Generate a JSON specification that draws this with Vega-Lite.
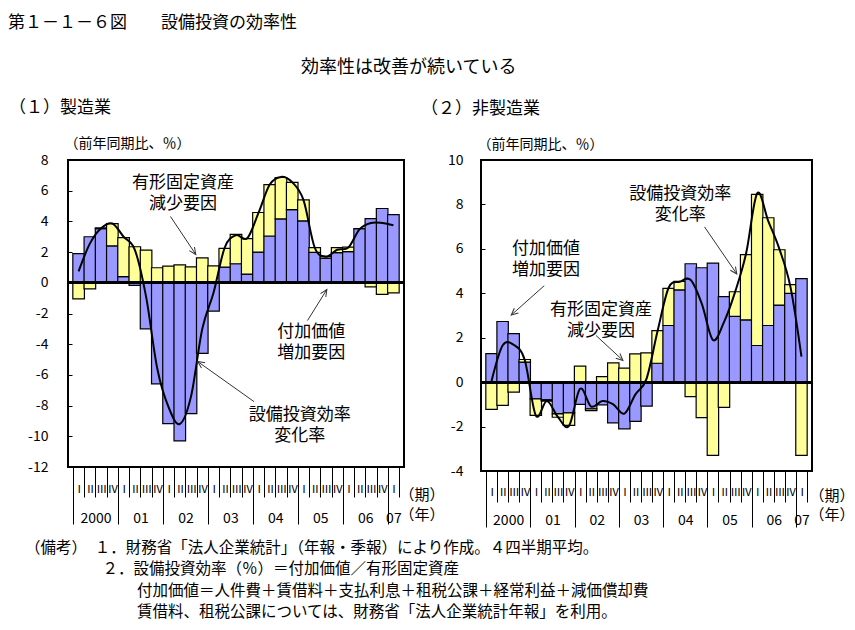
{
  "$schema": "https://vega.github.io/schema/vega-lite/v6.json",
  "background": "white",
  "padding": {"left": 8, "top": 14, "right": 0, "bottom": 0},
  "config": {
    "font": "Noto Sans CJK JP",
    "view": {"stroke": "black", "strokeWidth": 2},
    "axis": {"grid": false, "domain": false, "labelColor": "black", "tickColor": "black", "titleColor": "black", "titleFontWeight": "normal", "labelFont": "Noto Sans CJK JP", "titleFont": "Noto Sans CJK JP", "labelFlush": false, "labelOverlap": false, "labelBound": false},
    "title": {"fontWeight": "normal", "color": "black", "font": "Noto Sans CJK JP"},
    "text": {"font": "Noto Sans CJK JP", "color": "black"}
  },
  "datasets": {
    "mfg": [
      {"i": 0, "v": 1.9, "f": -1.05, "r": 0.75},
      {"i": 1, "v": 3.0, "f": -0.4, "r": 2.55},
      {"i": 2, "v": 3.53, "f": 0.05, "r": 3.55},
      {"i": 3, "v": 2.4, "f": 1.46, "r": 3.86},
      {"i": 4, "v": 0.4, "f": 2.54, "r": 3.0},
      {"i": 5, "v": -0.17, "f": 2.35, "r": 2.15},
      {"i": 6, "v": -3.0, "f": 2.13, "r": -0.9},
      {"i": 7, "v": -6.58, "f": 0.98, "r": -5.6},
      {"i": 8, "v": -9.18, "f": 1.09, "r": -8.1},
      {"i": 9, "v": -10.3, "f": 1.17, "r": -9.2},
      {"i": 10, "v": -8.52, "f": 1.04, "r": -7.4},
      {"i": 11, "v": -4.6, "f": 1.63, "r": -3.0},
      {"i": 12, "v": -1.84, "f": 1.1, "r": -0.65},
      {"i": 13, "v": 1.02, "f": 1.22, "r": 2.3},
      {"i": 14, "v": 1.24, "f": 1.92, "r": 3.1},
      {"i": 15, "v": 0.57, "f": 2.31, "r": 2.9},
      {"i": 16, "v": 2.0, "f": 2.58, "r": 4.55},
      {"i": 17, "v": 3.05, "f": 3.35, "r": 6.4},
      {"i": 18, "v": 4.16, "f": 2.7, "r": 6.9},
      {"i": 19, "v": 4.77, "f": 1.77, "r": 6.55},
      {"i": 20, "v": 4.03, "f": 1.37, "r": 5.4},
      {"i": 21, "v": 1.98, "f": 0.31, "r": 2.3},
      {"i": 22, "v": 1.61, "f": 0.11, "r": 1.7},
      {"i": 23, "v": 1.96, "f": 0.33, "r": 2.15},
      {"i": 24, "v": 2.03, "f": 0.3, "r": 2.3},
      {"i": 25, "v": 3.53, "f": 0.0, "r": 3.5},
      {"i": 26, "v": 4.18, "f": -0.26, "r": 3.9},
      {"i": 27, "v": 4.84, "f": -0.76, "r": 3.9},
      {"i": 28, "v": 4.44, "f": -0.65, "r": 3.75}
    ],
    "non": [
      {"i": 0, "v": 1.28, "f": -1.23, "r": 0.05},
      {"i": 1, "v": 2.73, "f": -1.05, "r": 1.65},
      {"i": 2, "v": 2.18, "f": -0.45, "r": 1.68},
      {"i": 3, "v": 0.9, "f": 0.12, "r": 1.0},
      {"i": 4, "v": -0.75, "f": -0.75, "r": -1.5},
      {"i": 5, "v": -0.8, "f": -0.05, "r": -0.85},
      {"i": 6, "v": -1.43, "f": -0.15, "r": -1.57},
      {"i": 7, "v": -1.38, "f": -0.57, "r": -1.97},
      {"i": 8, "v": -1.0, "f": 0.72, "r": -0.3},
      {"i": 9, "v": -1.2, "f": -0.08, "r": -1.1},
      {"i": 10, "v": -1.02, "f": 0.25, "r": -0.85},
      {"i": 11, "v": -1.83, "f": 0.87, "r": -1.0},
      {"i": 12, "v": -2.1, "f": 0.63, "r": -1.42},
      {"i": 13, "v": -1.77, "f": 1.27, "r": -0.55},
      {"i": 14, "v": -1.08, "f": 1.32, "r": 0.15},
      {"i": 15, "v": 0.85, "f": 1.47, "r": 2.3},
      {"i": 16, "v": 2.55, "f": 1.67, "r": 4.25},
      {"i": 17, "v": 4.15, "f": 0.39, "r": 4.52},
      {"i": 18, "v": 5.33, "f": -0.65, "r": 4.6},
      {"i": 19, "v": 5.15, "f": -1.6, "r": 3.52},
      {"i": 20, "v": 5.36, "f": -3.3, "r": 1.9},
      {"i": 21, "v": 3.85, "f": -1.14, "r": 2.7},
      {"i": 22, "v": 2.96, "f": 1.11, "r": 4.05},
      {"i": 23, "v": 2.8, "f": 2.94, "r": 5.8},
      {"i": 24, "v": 1.65, "f": 6.8, "r": 8.5},
      {"i": 25, "v": 2.55, "f": 4.85, "r": 7.25},
      {"i": 26, "v": 3.47, "f": 2.49, "r": 6.0},
      {"i": 27, "v": 4.0, "f": 0.39, "r": 4.3},
      {"i": 28, "v": 4.66, "f": -3.3, "r": 1.15}
    ],
    "ann1": [
      {"label": "有形固定資産\n減少要因", "x": 9.29, "y": 6.48},
      {"label": "付加価値\n増加要因", "x": 20.7, "y": -3.21},
      {"label": "設備投資効率\n変化率", "x": 19.66, "y": -8.59}
    ],
    "arr1": [
      {"x": 8.17, "y": 4.32, "x2": 10.42, "y2": 1.85},
      {"x": 20.36, "y": -2.46, "x2": 22.08, "y2": -0.44},
      {"x": 15.6, "y": -7.74, "x2": 10.59, "y2": -5.13}
    ],
    "ann2": [
      {"label": "設備投資効率\n変化率", "x": 17.04, "y": 8.48},
      {"label": "付加価値\n増加要因", "x": 4.91, "y": 6.0},
      {"label": "有形固定資産\n減少要因", "x": 9.88, "y": 3.27}
    ],
    "arr2": [
      {"x": 19.24, "y": 6.99, "x2": 22.16, "y2": 4.87},
      {"x": 4.76, "y": 4.34, "x2": 1.78, "y2": 3.02},
      {"x": 9.44, "y": 2.1, "x2": 11.87, "y2": 0.98}
    ]
  },
  "title": {"text": "第１－１－６図　　設備投資の効率性", "anchor": "start", "frame": "bounds", "fontSize": 17, "offset": 27},
  "vconcat": [
    {
      "title": {
        "text": [
          "（備考）　１．財務省「法人企業統計」（年報・季報）により作成。４四半期平均。",
          "​　　　　　２．設備投資効率（％）＝付加価値／有形固定資産",
          "​　　　　　　　 付加価値＝人件費＋賃借料＋支払利息＋租税公課＋経常利益＋減価償却費",
          "​　　　　　　　 賃借料、租税公課については、財務省「法人企業統計年報」を利用。"
        ],
        "orient": "bottom", "anchor": "start", "frame": "bounds", "fontSize": 15.5, "lineHeight": 21.5, "offset": 12, "dx": 17
      },
      "vconcat": [
        {
          "title": {"text": "効率性は改善が続いている", "anchor": "start", "frame": "group", "dx": 233, "fontSize": 18, "offset": 21},
          "bounds": "flush",
          "spacing": 77,
          "hconcat": [
            {
              "width": 336, "height": 307,
              "title": {"text": "（１）製造業", "anchor": "start", "frame": "group", "dx": -59, "fontSize": 17, "offset": 19},
              "data": {"name": "mfg"},
              "resolve": {"axis": {"x": "independent", "y": "independent"}},
              "layer": [
                {
                  "transform": [{"fold": ["v", "f"], "as": ["key", "value"]}],
                  "mark": {"type": "bar", "width": 11.59, "stroke": "black", "strokeWidth": 1.2, "orient": "vertical"},
                  "encoding": {
                    "x": {"field": "i", "type": "quantitative", "scale": {"domain": [-0.5, 28.5], "nice": false, "zero": false},
                      "axis": {"orient": "bottom", "values": [-0.5, 0.5, 1.5, 2.5, 3.5, 4.5, 5.5, 6.5, 7.5, 8.5, 9.5, 10.5, 11.5, 12.5, 13.5, 14.5, 15.5, 16.5, 17.5, 18.5, 19.5, 20.5, 21.5, 22.5, 23.5, 24.5, 25.5, 26.5, 27.5, 28.5],
                        "labelExpr": "datum.value > 28 ? '' : ['Ⅰ','Ⅱ','Ⅲ','Ⅳ'][round(datum.value + 0.5) % 4]",
                        "tickSize": 30, "tickWidth": 1, "labelOffset": 5.79, "labelPadding": -8, "labelBaseline": "middle", "labelFontSize": 11,
                        "title": "（期）", "titleX": 331, "titleY": 27, "titleAlign": "left", "titleBaseline": "middle", "titleFontSize": 15, "titleAngle": 0}},
                    "y": {"field": "value", "type": "quantitative", "stack": "zero", "scale": {"domain": [-12, 8], "nice": false},
                      "axis": {"orient": "left", "values": [-12, -10, -8, -6, -4, -2, 0, 2, 4, 6, 8], "labelExpr": "'' + datum.value", "tickSize": -4, "labelPadding": 24, "labelFontSize": 14,
                        "title": "（前年同期比、％）", "titleAngle": 0, "titleX": -4, "titleY": -17, "titleAlign": "left", "titleBaseline": "middle", "titleFontSize": 14}},
                    "color": {"field": "key", "type": "nominal", "scale": {"domain": ["v", "f"], "range": ["#9999FF", "#FFFF99"]}, "legend": null},
                    "order": {"field": "key", "sort": "descending"}
                  }
                },
                {
                  "mark": {"type": "rule", "strokeWidth": 2, "color": "black"},
                  "encoding": {"y": {"datum": 0, "type": "quantitative", "scale": {"domain": [-12, 8], "nice": false}, "axis": null}}
                },
                {
                  "mark": {"type": "line", "interpolate": "cardinal", "color": "black", "strokeWidth": 2},
                  "encoding": {
                    "x": {"field": "i", "type": "quantitative", "scale": {"domain": [-0.5, 28.5], "nice": false, "zero": false},
                      "axis": {"orient": "bottom", "values": [-0.5, 3.5, 7.5, 11.5, 15.5, 19.5, 23.5, 27.5], "labels": false, "tickSize": 57, "tickWidth": 1, "title": null}},
                    "y": {"field": "r", "type": "quantitative", "scale": {"domain": [-12, 8], "nice": false}, "axis": null}
                  }
                },
                {
                  "data": {"name": "ann1"},
                  "mark": {"type": "text", "fontSize": 17, "lineBreak": "\n", "lineHeight": 21, "align": "center", "baseline": "middle"},
                  "encoding": {
                    "x": {"field": "x", "type": "quantitative", "scale": {"domain": [-0.5, 28.5], "nice": false, "zero": false},
                      "axis": {"orient": "bottom", "values": [1.5, 5.5, 9.5, 13.5, 17.5, 21.5, 25.5, 28], "ticks": false, "labelPadding": 51, "labelBaseline": "middle", "labelFontSize": 14,
                        "labelExpr": "datum.value > 27 ? '07' : ['2000','01','02','03','04','05','06'][floor(datum.value / 4)]",
                        "title": "（年）", "titleX": 331, "titleY": 47, "titleAlign": "left", "titleBaseline": "middle", "titleFontSize": 15, "titleAngle": 0}},
                    "y": {"field": "y", "type": "quantitative", "scale": {"domain": [-12, 8], "nice": false}, "axis": null},
                    "text": {"field": "label"}
                  }
                },
                {
                  "data": {"name": "arr1"},
                  "mark": {"type": "rule", "color": "#333333", "strokeWidth": 1},
                  "encoding": {
                    "x": {"field": "x", "type": "quantitative", "scale": {"domain": [-0.5, 28.5], "nice": false, "zero": false}, "axis": null},
                    "y": {"field": "y", "type": "quantitative", "scale": {"domain": [-12, 8], "nice": false}, "axis": null},
                    "x2": {"field": "x2"}, "y2": {"field": "y2"}
                  }
                },
                {
                  "data": {"name": "arr1"},
                  "transform": [{"calculate": "atan2((datum.x2 - datum.x) * 11.59, (datum.y2 - datum.y) * 15.35) * 180 / PI", "as": "ang"}],
                  "mark": {"type": "point", "shape": "M-0.6,1.3L0,0L0.6,1.3", "filled": false, "stroke": "#333333", "strokeWidth": 1, "size": 110, "opacity": 1},
                  "encoding": {
                    "x": {"field": "x2", "type": "quantitative", "scale": {"domain": [-0.5, 28.5], "nice": false, "zero": false}, "axis": null},
                    "y": {"field": "y2", "type": "quantitative", "scale": {"domain": [-12, 8], "nice": false}, "axis": null},
                    "angle": {"field": "ang", "type": "quantitative", "scale": null}
                  }
                }
              ]
            },
            {
              "width": 331, "height": 311,
              "title": {"text": "（２）非製造業", "anchor": "start", "frame": "group", "dx": -60, "fontSize": 17, "offset": 19},
              "data": {"name": "non"},
              "resolve": {"axis": {"x": "independent", "y": "independent"}},
              "layer": [
                {
                  "transform": [{"fold": ["v", "f"], "as": ["key", "value"]}],
                  "mark": {"type": "bar", "width": 11.41, "stroke": "black", "strokeWidth": 1.2, "orient": "vertical"},
                  "encoding": {
                    "x": {"field": "i", "type": "quantitative", "scale": {"domain": [-0.5, 28.5], "nice": false, "zero": false},
                      "axis": {"orient": "bottom", "values": [-0.5, 0.5, 1.5, 2.5, 3.5, 4.5, 5.5, 6.5, 7.5, 8.5, 9.5, 10.5, 11.5, 12.5, 13.5, 14.5, 15.5, 16.5, 17.5, 18.5, 19.5, 20.5, 21.5, 22.5, 23.5, 24.5, 25.5, 26.5, 27.5, 28.5],
                        "labelExpr": "datum.value > 28 ? '' : ['Ⅰ','Ⅱ','Ⅲ','Ⅳ'][round(datum.value + 0.5) % 4]",
                        "tickSize": 31, "tickWidth": 1, "labelOffset": 5.7, "labelPadding": -10, "labelBaseline": "middle", "labelFontSize": 11,
                        "title": "（期）", "titleX": 328, "titleY": 24, "titleAlign": "left", "titleBaseline": "middle", "titleFontSize": 15, "titleAngle": 0}},
                    "y": {"field": "value", "type": "quantitative", "stack": "zero", "scale": {"domain": [-4, 10], "nice": false},
                      "axis": {"orient": "left", "values": [-4, -2, 0, 2, 4, 6, 8, 10], "labelExpr": "'' + datum.value", "tickSize": -4, "labelPadding": 22, "labelFontSize": 14,
                        "title": "（前年同期比、％）", "titleAngle": 0, "titleX": -4, "titleY": -16, "titleAlign": "left", "titleBaseline": "middle", "titleFontSize": 14}},
                    "color": {"field": "key", "type": "nominal", "scale": {"domain": ["v", "f"], "range": ["#9999FF", "#FFFF99"]}, "legend": null},
                    "order": {"field": "key", "sort": "descending"}
                  }
                },
                {
                  "mark": {"type": "rule", "strokeWidth": 2, "color": "black"},
                  "encoding": {"y": {"datum": 0, "type": "quantitative", "scale": {"domain": [-4, 10], "nice": false}, "axis": null}}
                },
                {
                  "mark": {"type": "line", "interpolate": "cardinal", "color": "black", "strokeWidth": 2},
                  "encoding": {
                    "x": {"field": "i", "type": "quantitative", "scale": {"domain": [-0.5, 28.5], "nice": false, "zero": false},
                      "axis": {"orient": "bottom", "values": [-0.5, 3.5, 7.5, 11.5, 15.5, 19.5, 23.5, 27.5], "labels": false, "tickSize": 56, "tickWidth": 1, "title": null}},
                    "y": {"field": "r", "type": "quantitative", "scale": {"domain": [-4, 10], "nice": false}, "axis": null}
                  }
                },
                {
                  "data": {"name": "ann2"},
                  "mark": {"type": "text", "fontSize": 17, "lineBreak": "\n", "lineHeight": 21, "align": "center", "baseline": "middle"},
                  "encoding": {
                    "x": {"field": "x", "type": "quantitative", "scale": {"domain": [-0.5, 28.5], "nice": false, "zero": false},
                      "axis": {"orient": "bottom", "values": [1.5, 5.5, 9.5, 13.5, 17.5, 21.5, 25.5, 28], "ticks": false, "labelPadding": 49, "labelBaseline": "middle", "labelFontSize": 14,
                        "labelExpr": "datum.value > 27 ? '07' : ['2000','01','02','03','04','05','06'][floor(datum.value / 4)]",
                        "title": "（年）", "titleX": 328, "titleY": 43, "titleAlign": "left", "titleBaseline": "middle", "titleFontSize": 15, "titleAngle": 0}},
                    "y": {"field": "y", "type": "quantitative", "scale": {"domain": [-4, 10], "nice": false}, "axis": null},
                    "text": {"field": "label"}
                  }
                },
                {
                  "data": {"name": "arr2"},
                  "mark": {"type": "rule", "color": "#333333", "strokeWidth": 1},
                  "encoding": {
                    "x": {"field": "x", "type": "quantitative", "scale": {"domain": [-0.5, 28.5], "nice": false, "zero": false}, "axis": null},
                    "y": {"field": "y", "type": "quantitative", "scale": {"domain": [-4, 10], "nice": false}, "axis": null},
                    "x2": {"field": "x2"}, "y2": {"field": "y2"}
                  }
                },
                {
                  "data": {"name": "arr2"},
                  "transform": [{"calculate": "atan2((datum.x2 - datum.x) * 11.41, (datum.y2 - datum.y) * 22.21) * 180 / PI", "as": "ang"}],
                  "mark": {"type": "point", "shape": "M-0.6,1.3L0,0L0.6,1.3", "filled": false, "stroke": "#333333", "strokeWidth": 1, "size": 110, "opacity": 1},
                  "encoding": {
                    "x": {"field": "x2", "type": "quantitative", "scale": {"domain": [-0.5, 28.5], "nice": false, "zero": false}, "axis": null},
                    "y": {"field": "y2", "type": "quantitative", "scale": {"domain": [-4, 10], "nice": false}, "axis": null},
                    "angle": {"field": "ang", "type": "quantitative", "scale": null}
                  }
                }
              ]
            }
          ]
        }
      ]
    }
  ]
}
